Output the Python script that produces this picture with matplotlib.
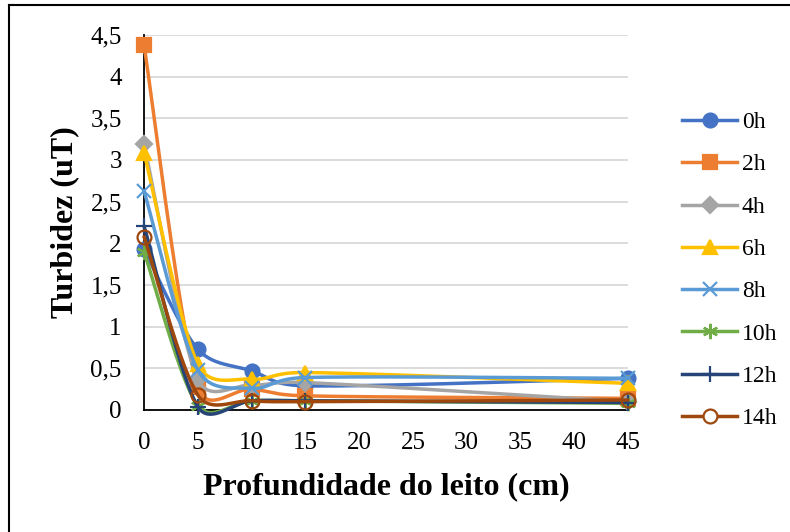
import numpy as np
import matplotlib
matplotlib.use("Agg")
import matplotlib.pyplot as plt
from matplotlib.lines import Line2D
from matplotlib.ticker import FuncFormatter, MultipleLocator

# profundidade do leito (cm) e turbidez (uT) por tempo
depth = [0, 5, 10, 15, 45]
series_names = ["0h", "2h", "4h", "6h", "8h", "10h", "12h", "14h"]
t0h = [1.93, 0.73, 0.47, 0.29, 0.38]
t2h = [4.38, 0.28, 0.25, 0.17, 0.14]
t4h = [3.19, 0.37, 0.30, 0.33, 0.10]
t6h = [3.09, 0.55, 0.37, 0.45, 0.32]
t8h = [2.63, 0.48, 0.26, 0.39, 0.38]
t10h = [1.90, 0.05, 0.11, 0.11, 0.08]
t12h = [2.21, 0.04, 0.11, 0.11, 0.09]
t14h = [2.08, 0.18, 0.11, 0.10, 0.12]
all_series = [t0h, t2h, t4h, t6h, t8h, t10h, t12h, t14h]

colors = ["#4472C4", "#ED7D31", "#A5A5A5", "#FFC000",
          "#5B9BD5", "#70AD47", "#264478", "#9E480E"]
markers = ["o", "s", "D", "^", "x", (6, 2, 0), "+", "o"]
msizes = [10, 10, 8, 10, 10, 11, 11, 10]

# escala em pixels do grafico (para suavizar como o excel)
SX, SY = 484 / 45, 375 / 4.5


def smooth(xs, ys, n=40):
    # bezier com tangentes ponderadas pelo comprimento dos segmentos
    p = np.column_stack([np.asarray(xs) * SX, np.asarray(ys) * SY]).astype(float)
    out = []
    for i in range(len(p) - 1):
        p0 = p[i - 1] if i > 0 else p[i]
        p3 = p[i + 2] if i + 2 < len(p) else p[i + 1]
        d01 = np.hypot(*(p[i] - p0))
        d12 = np.hypot(*(p[i + 1] - p[i]))
        d23 = np.hypot(*(p3 - p[i + 1]))
        s1 = min(1.0, np.sqrt(2 * d12 / (d01 + d12))) if d01 > 0 else 1.0
        s2 = min(1.0, np.sqrt(2 * d12 / (d12 + d23))) if d23 > 0 else 1.0
        c1 = p[i] + (p[i + 1] - p0) / 6.0 * s1
        c2 = p[i + 1] - (p3 - p[i]) / 6.0 * s2
        t = np.linspace(0, 1, n)[:, None]
        seg = ((1 - t) ** 3) * p[i] + 3 * ((1 - t) ** 2) * t * c1 \
            + 3 * (1 - t) * t ** 2 * c2 + t ** 3 * p[i + 1]
        out.append(seg if i == 0 else seg[1:])
    out = np.vstack(out)
    return out[:, 0] / SX, out[:, 1] / SY


plt.rcParams["font.family"] = ["Liberation Serif", "DejaVu Serif"]

fig = plt.figure(figsize=(7.9, 5.32), dpi=100)
ax = fig.add_axes([144 / 790, 1 - 410 / 532, 484 / 790, 375 / 532])

handles = []
for name, vals, c, m, ms in zip(series_names, all_series, colors, markers, msizes):
    sx, sy = smooth(depth, vals)
    ax.plot(sx, sy, color=c, lw=2.5, clip_on=False, solid_capstyle="round")
    if name == "14h":
        ax.plot(depth, vals, ls="none", marker=m, ms=ms, mfc="none", mec=c,
                mew=1.6, clip_on=False)
        h = Line2D([], [], color=c, lw=2.5, marker=m, ms=ms, mfc="white",
                   mec=c, mew=1.6)
    else:
        ax.plot(depth, vals, ls="none", marker=m, ms=ms, color=c, mec=c,
                mew=1.6, clip_on=False)
        h = Line2D([], [], color=c, lw=2.5, marker=m, ms=ms, mec=c, mew=1.6)
    handles.append(h)

ax.set_xlim(0, 45)
ax.set_ylim(0, 4.5)
ax.xaxis.set_major_locator(MultipleLocator(5))
ax.yaxis.set_major_locator(MultipleLocator(0.5))
fmt = FuncFormatter(lambda v, pos: "{:g}".format(v).replace(".", ","))
ax.xaxis.set_major_formatter(fmt)
ax.yaxis.set_major_formatter(fmt)
ax.tick_params(axis="both", length=0, labelsize=18)
ax.tick_params(axis="x", pad=16)
ax.tick_params(axis="y", pad=16)
ax.grid(axis="y", color="#D9D9D9", lw=1.3)
ax.set_axisbelow(True)
for s in ["top", "right"]:
    ax.spines[s].set_visible(False)
for s in ["left", "bottom"]:
    ax.spines[s].set_color("black")
    ax.spines[s].set_linewidth(1.3)
    ax.spines[s].set_zorder(1.5)

ax.set_xlabel("Profundidade do leito (cm)", fontsize=23, fontweight="bold")
ax.set_ylabel("Turbidez (uT)", fontsize=23, fontweight="bold")
ax.xaxis.set_label_coords(0.501, -0.165)
ax.yaxis.set_label_coords(-0.133, 0.5)

fig.legend(handles, series_names, loc="center left",
           bbox_to_anchor=(682 / 790, 1 - 270.5 / 532), frameon=False,
           fontsize=17, handlelength=2.33, handletextpad=0.2,
           labelspacing=0.88, borderpad=0, borderaxespad=0)

# moldura do grafico
fig.add_artist(Line2D([9 / 790, 9 / 790], [0, 1 - 5 / 532], color="black",
                      lw=1.5, transform=fig.transFigure))
fig.add_artist(Line2D([9 / 790, 1], [1 - 5 / 532, 1 - 5 / 532], color="black",
                      lw=1.5, transform=fig.transFigure))

fig.savefig("out.png", dpi=100)
